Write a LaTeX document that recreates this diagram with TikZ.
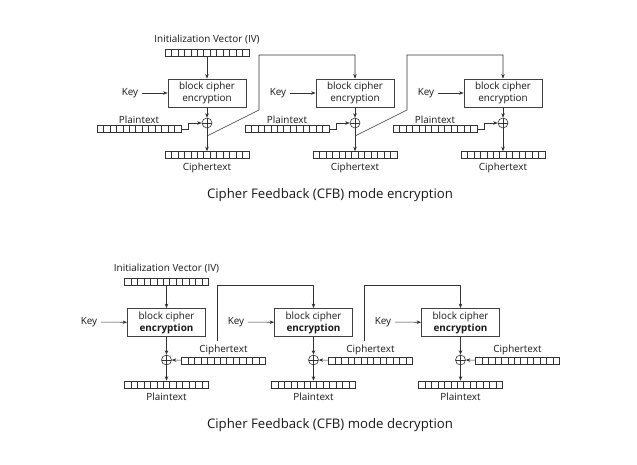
\documentclass[tikz,border=0pt]{standalone}
\usepackage{fontspec}
\setmainfont{Open Sans}
\usetikzlibrary{arrows.meta}
\usetikzlibrary{positioning}

\begin{document}
\begin{tikzpicture}[x=1pt,y=-1pt,line width=0.6pt,
  every node/.style={font=\fontsize{9.9}{12}\selectfont,text=black!90},
  arr/.style={draw=black!80,-{Stealth[length=4.5pt,width=3.5pt]}},
  cipher/.style={draw=black!75,line width=0.8pt,minimum width=78pt,minimum height=28pt,align=center,inner sep=1pt},
  reg/.style={draw=black!80,minimum width=84pt,minimum height=7pt,inner sep=0pt,
    path picture={\foreach \i in {1,...,12}
      \draw[black!80] ([xshift=\i*84pt/13]path picture bounding box.south west) -- ([xshift=\i*84pt/13]path picture bounding box.north west);}},
  xor/.style={draw=black!80,circle,minimum size=10pt,inner sep=0pt,
    path picture={\draw[black!80] (path picture bounding box.north) -- (path picture bounding box.south)
      (path picture bounding box.west) -- (path picture bounding box.east);}}]
  \useasboundingbox (0,0) rectangle (637,465);
  \node[reg,label={[label distance=1pt]above:Initialization Vector (IV)}] (iv1) at (207,52.5) {};
  \node[cipher] (e1) at (207,93) {block cipher\\encryption};
  \node[cipher] (e2) at (355,93) {block cipher\\encryption};
  \node[cipher] (e3) at (503,93) {block cipher\\encryption};
  \node (k1) at (130,93) {Key};
  \node (k2) at (278,93) {Key};
  \node (k3) at (426,93) {Key};
  \node[xor] (x1) at (207,123) {};
  \node[xor] (x2) at (355,123) {};
  \node[xor] (x3) at (503,123) {};
  \node[reg,label={[label distance=-2.5pt]above:Plaintext}] (p1) at (139,129) {};
  \node[reg,label={[label distance=-2.5pt]above:Plaintext}] (p2) at (287,129) {};
  \node[reg,label={[label distance=-2.5pt]above:Plaintext}] (p3) at (435,129) {};
  \node[reg,label={[label distance=1pt]below:Ciphertext}] (c1) at (207,155) {};
  \node[reg,label={[label distance=1pt]below:Ciphertext}] (c2) at (355,155) {};
  \node[reg,label={[label distance=1pt]below:Ciphertext}] (c3) at (503,155) {};
  \coordinate (t1) at (207,136);
  \coordinate (t2) at (355,136);
  \node[font=\fontsize{13.2}{15}\selectfont] (cap1) at (330,195) {Cipher Feedback (CFB) mode encryption};
  \draw[arr] (iv1) -- (e1);
  \draw[arr] (k1) -- (e1);
  \draw[arr] (k2) -- (e2);
  \draw[arr] (k3) -- (e3);
  \draw[arr] (e1) -- (x1);
  \draw[arr] (e2) -- (x2);
  \draw[arr] (e3) -- (x3);
  \draw[arr] (x1) -- (c1);
  \draw[arr] (x2) -- (c2);
  \draw[arr] (x3) -- (c3);
  \draw[arr] (p1.east) -- ++(7,0) |- (x1.west);
  \draw[arr] (p2.east) -- ++(7,0) |- (x2.west);
  \draw[arr] (p3.east) -- ++(7,0) |- (x3.west);
  \draw[arr] (t1) -- ++(52,-26) -- ++(0,-55) -| (e2.north);
  \draw[arr] (t2) -- ++(52,-26) -- ++(0,-55) -| (e3.north);

  \node[reg,label={[label distance=1pt]above:Initialization Vector (IV)}] (iv4) at (166.5,281.5) {};
  \node[cipher] (d1) at (166.5,322.5) {block cipher\\\textbf{encryption}};
  \node[cipher] (d2) at (313.5,322.5) {block cipher\\\textbf{encryption}};
  \node[cipher] (d3) at (460.5,322.5) {block cipher\\\textbf{encryption}};
  \node (k4) at (89,322) {Key};
  \node (k5) at (236,322) {Key};
  \node (k6) at (383,322) {Key};
  \node[xor] (x4) at (166.5,360) {};
  \node[xor] (x5) at (313.5,360) {};
  \node[xor] (x6) at (460.5,360) {};
  \node[reg] (c4) at (223.5,360.5) {};
  \node[reg] (c5) at (370.5,360.5) {};
  \node[reg] (c6) at (517.5,360.5) {};
  \node[above=-1.5pt of c4] (l4) {Ciphertext};
  \node[above=-1.5pt of c5] (l5) {Ciphertext};
  \node[above=-1.5pt of c6] (l6) {Ciphertext};
  \node[reg,label={[label distance=1.5pt]below:Plaintext}] (p4) at (166.5,384.5) {};
  \node[reg,label={[label distance=1.5pt]below:Plaintext}] (p5) at (313.5,384.5) {};
  \node[reg,label={[label distance=1.5pt]below:Plaintext}] (p6) at (460.5,384.5) {};
  \node[font=\fontsize{13.2}{15}\selectfont] (cap2) at (330,425) {Cipher Feedback (CFB) mode decryption};
  \draw[arr] (iv4) -- (d1);
  \draw[arr] (k4) -- (d1);
  \draw[arr] (k5) -- (d2);
  \draw[arr] (k6) -- (d3);
  \draw[arr] (d1) -- (x4);
  \draw[arr] (d2) -- (x5);
  \draw[arr] (d3) -- (x6);
  \draw[arr] (c4) -- (x4);
  \draw[arr] (c5) -- (x5);
  \draw[arr] (c6) -- (x6);
  \draw[arr] (x4) -- (p4);
  \draw[arr] (x5) -- (p5);
  \draw[arr] (x6) -- (p6);
  \draw[arr] ([xshift=-6pt]l4.north) -- ++(0,-56) -| (d2.north);
  \draw[arr] ([xshift=-6pt]l5.north) -- ++(0,-56) -| (d3.north);
\end{tikzpicture}
\end{document}
